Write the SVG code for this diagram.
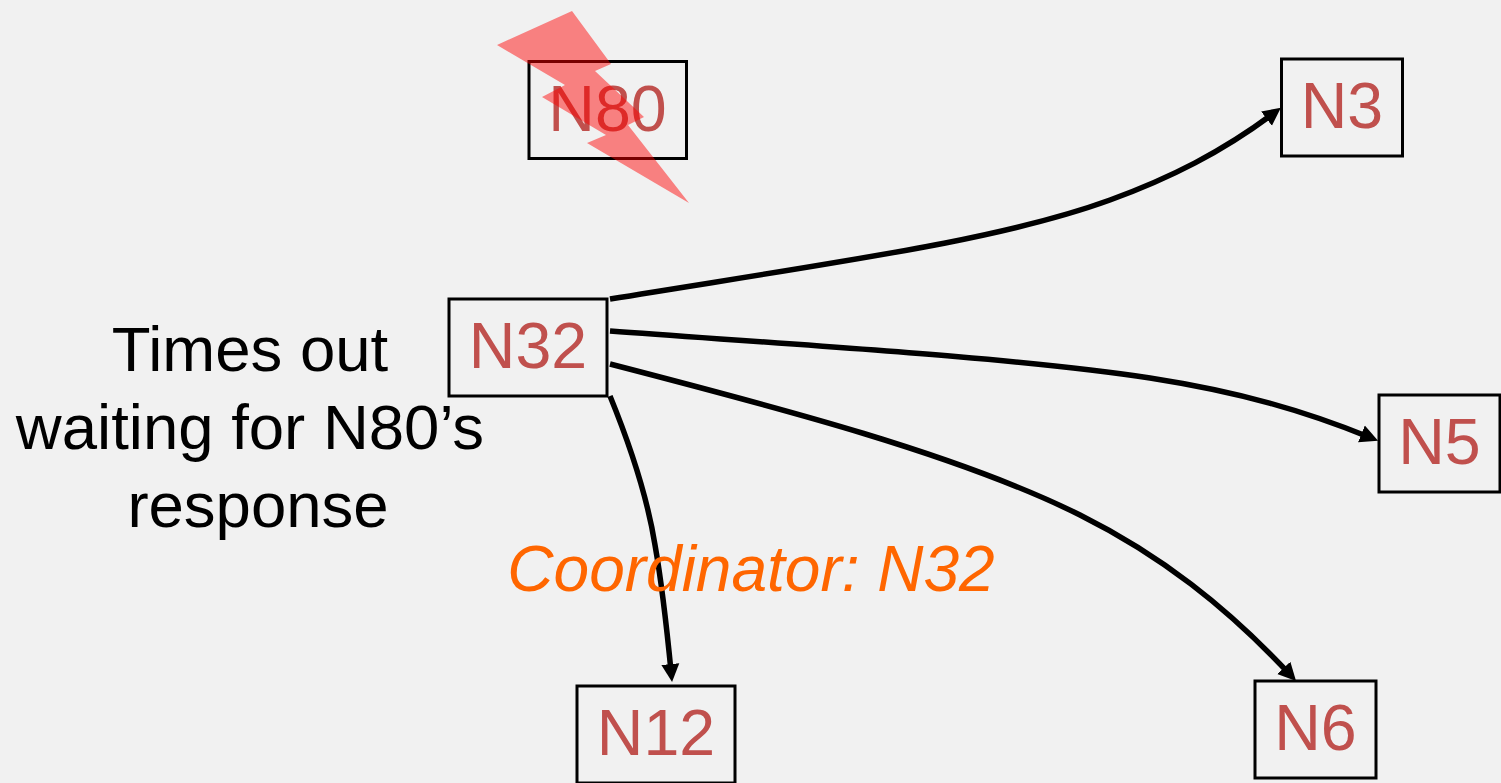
<svg xmlns="http://www.w3.org/2000/svg" width="1501" height="783" viewBox="0 0 1501 783">
<style>
.box{fill:none;stroke:#000;stroke-width:3}
.lbl{font-family:"Liberation Sans",Arial,sans-serif;font-size:64.500px;fill:#c0504d;text-anchor:middle}
.note{font-family:"Liberation Sans",Arial,sans-serif;font-size:63.500px;fill:#000;text-anchor:middle}
.coord{font-family:"Liberation Sans",Arial,sans-serif;font-size:64px;font-style:italic;fill:#ff6600;text-anchor:middle}
.edge{fill:none;stroke:#000;stroke-width:5.500;marker-end:url(#ah)}
</style>
<defs>
<marker id="ah" markerUnits="userSpaceOnUse" markerWidth="20" markerHeight="20" viewBox="0 0 20 18" refX="10" refY="9" orient="auto">
<path d="M0 0L18 9L0 18Z" fill="#000"/>
</marker>
</defs>
<rect width="1501" height="783" fill="#f1f1f1"/>
<g id="n80"><rect class="box" x="529" y="61.500" width="157.500" height="97"/><text class="lbl" x="607.500" y="131">N80</text></g>
<g id="n3"><rect class="box" x="1281.500" y="59" width="121" height="97"/><text class="lbl" x="1342" y="128">N3</text></g>
<g id="n32"><rect class="box" x="449" y="299" width="158" height="97"/><text class="lbl" x="528" y="368">N32</text></g>
<g id="n5"><rect class="box" x="1379" y="395" width="121" height="97"/><text class="lbl" x="1439.500" y="464">N5</text></g>
<g id="n12"><rect class="box" x="577" y="686" width="158" height="97"/><text class="lbl" x="656" y="755">N12</text></g>
<g id="n6"><rect class="box" x="1255" y="681" width="121" height="97"/><text class="lbl" x="1315.500" y="750">N6</text></g>
<g id="connectors">
<path class="edge" d="M610 299C850 260 1000 240 1110 200C1170 178 1222 152 1274.500 112.600"/>
<path class="edge" d="M610 331C800 345 1020 358 1150 378C1240 392 1305 411 1370.700 437.700"/>
<path class="edge" d="M610 364C780 408 960 455 1080 515C1160 555 1226 606 1290.600 675.200"/>
<path class="edge" d="M610 396C630 445 647 495 655 545C663 590 667 630 671.300 674"/>
</g>
<text class="note" x="250" y="371">Times out</text>
<text class="note" x="250" y="449">waiting for N80’s</text>
<text class="note" x="258" y="527">response</text>
<text class="coord" x="751" y="591">Coordinator: N32</text>
<path id="bolt" d="M572 11L611 64L595 71L644 117L628 125L689 203L587 143L606 135L542 97L565 85L497 45Z" fill="#ff0000" fill-opacity=".47"/>
</svg>
